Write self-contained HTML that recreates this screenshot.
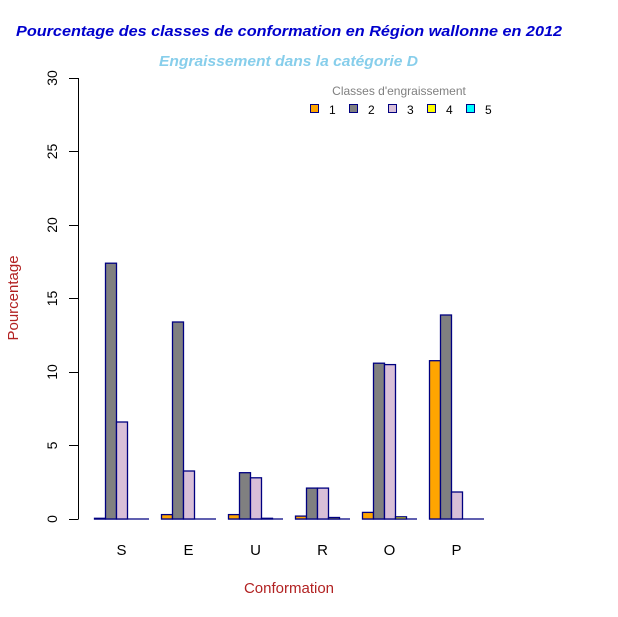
<!DOCTYPE html>
<html><head><meta charset="utf-8"><style>html,body{margin:0;padding:0;background:#fff}svg{display:block}</style></head>
<body>
<svg width="618" height="617" xmlns="http://www.w3.org/2000/svg" font-family="Liberation Sans, Arial, sans-serif">
<rect width="618" height="617" fill="#fff"/>
<text x="16" y="36" font-size="15" font-weight="bold" font-style="italic" fill="#0000cd" textLength="546" lengthAdjust="spacingAndGlyphs">Pourcentage des classes de conformation en Région wallonne en 2012</text>
<text x="159" y="66" font-size="15" font-weight="bold" font-style="italic" fill="#87ceeb" textLength="259" lengthAdjust="spacingAndGlyphs">Engraissement dans la catégorie D</text>
<!-- axis -->
<g stroke="#000" stroke-width="1">
<line x1="78.5" y1="78" x2="78.5" y2="519"/>
<line x1="69" y1="78.5" x2="78.5" y2="78.5"/>
<line x1="69" y1="151.5" x2="78.5" y2="151.5"/>
<line x1="69" y1="225.5" x2="78.5" y2="225.5"/>
<line x1="69" y1="298.5" x2="78.5" y2="298.5"/>
<line x1="69" y1="372.5" x2="78.5" y2="372.5"/>
<line x1="69" y1="445.5" x2="78.5" y2="445.5"/>
<line x1="69" y1="519.5" x2="78.5" y2="519.5"/>
</g>
<g font-size="14" fill="#000" text-anchor="middle">
<text transform="translate(57,78) rotate(-90)">30</text>
<text transform="translate(57,151.5) rotate(-90)">25</text>
<text transform="translate(57,225) rotate(-90)">20</text>
<text transform="translate(57,298.5) rotate(-90)">15</text>
<text transform="translate(57,372) rotate(-90)">10</text>
<text transform="translate(57,445.5) rotate(-90)">5</text>
<text transform="translate(57,519) rotate(-90)">0</text>
</g>
<text transform="translate(18,298) rotate(-90)" font-size="15" fill="#b22222" text-anchor="middle">Pourcentage</text>
<text x="289" y="593" font-size="15" fill="#b22222" text-anchor="middle">Conformation</text>
<g font-size="15" fill="#000" text-anchor="middle">
<text x="121.5" y="555">S</text><text x="188.5" y="555">E</text><text x="255.5" y="555">U</text>
<text x="322.5" y="555">R</text><text x="389.5" y="555">O</text><text x="456.5" y="555">P</text>
</g>
<!-- baselines for zero bars -->
<g stroke="#000080" stroke-width="1.3">
<line x1="94" y1="519" x2="149" y2="519"/><line x1="161" y1="519" x2="216" y2="519"/>
<line x1="228" y1="519" x2="283" y2="519"/><line x1="295" y1="519" x2="350" y2="519"/>
<line x1="362" y1="519" x2="417" y2="519"/><line x1="429" y1="519" x2="484" y2="519"/>
</g>
<g stroke="#000080" stroke-width="1.3">
<!-- S -->
<rect x="94.5" y="518.3" width="11" height="0.7" fill="#ffa500"/>
<rect x="105.5" y="263.2" width="11" height="255.8" fill="#808080"/>
<rect x="116.5" y="422" width="11" height="97" fill="#d8bfd8"/>
<!-- E -->
<rect x="161.5" y="514.6" width="11" height="4.4" fill="#ffa500"/>
<rect x="172.5" y="322" width="11" height="197" fill="#808080"/>
<rect x="183.5" y="471" width="11" height="48" fill="#d8bfd8"/>
<!-- U -->
<rect x="228.5" y="514.6" width="11" height="4.4" fill="#ffa500"/>
<rect x="239.5" y="472.7" width="11" height="46.3" fill="#808080"/>
<rect x="250.5" y="477.8" width="11" height="41.2" fill="#d8bfd8"/>
<rect x="261.5" y="518.3" width="11" height="0.7" fill="#ffff00"/>
<!-- R -->
<rect x="295.5" y="516.1" width="11" height="2.9" fill="#ffa500"/>
<rect x="306.5" y="488.1" width="11" height="30.9" fill="#808080"/>
<rect x="317.5" y="488.1" width="11" height="30.9" fill="#d8bfd8"/>
<rect x="328.5" y="517.5" width="11" height="1.5" fill="#ffff00"/>
<!-- O -->
<rect x="362.5" y="512.4" width="11" height="6.6" fill="#ffa500"/>
<rect x="373.5" y="363.2" width="11" height="155.8" fill="#808080"/>
<rect x="384.5" y="364.6" width="11" height="154.4" fill="#d8bfd8"/>
<rect x="395.5" y="516.8" width="11" height="2.2" fill="#ffff00"/>
<!-- P -->
<rect x="429.5" y="360.7" width="11" height="158.3" fill="#ffa500"/>
<rect x="440.5" y="315" width="11" height="204" fill="#808080"/>
<rect x="451.5" y="492" width="11" height="27" fill="#d8bfd8"/>
</g>
<!-- legend -->
<text x="399" y="95" font-size="12" fill="#808080" text-anchor="middle">Classes d'engraissement</text>
<g stroke="#000080" stroke-width="1">
<rect x="310.5" y="104.5" width="8" height="8" fill="#ffa500"/>
<rect x="349.5" y="104.5" width="8" height="8" fill="#808080"/>
<rect x="388.5" y="104.5" width="8" height="8" fill="#d8bfd8"/>
<rect x="427.5" y="104.5" width="8" height="8" fill="#ffff00"/>
<rect x="466.5" y="104.5" width="8" height="8" fill="#00ffff"/>
</g>
<g font-size="12" fill="#000">
<text x="329" y="114">1</text><text x="368" y="114">2</text><text x="407" y="114">3</text>
<text x="446" y="114">4</text><text x="485" y="114">5</text>
</g>
</svg>
</body></html>
